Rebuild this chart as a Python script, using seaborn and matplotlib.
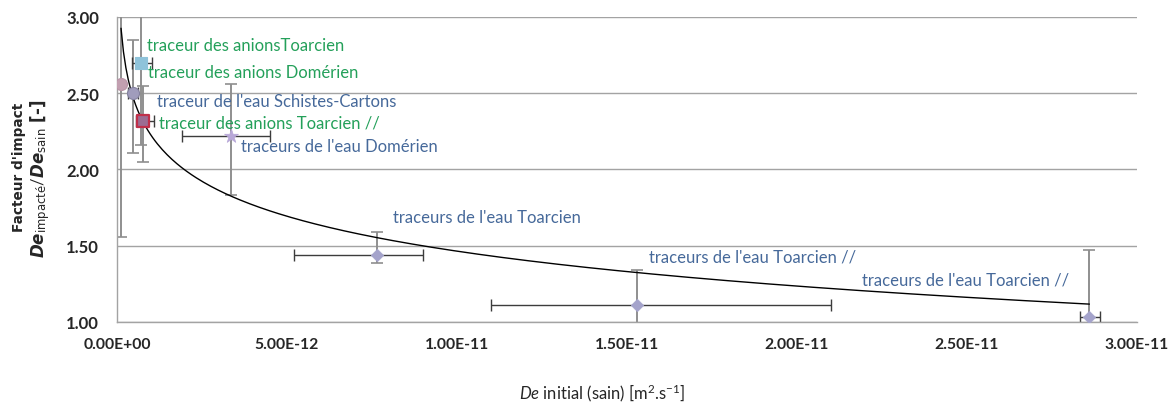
import numpy as np
import pandas as pd
import matplotlib
matplotlib.use("Agg")
import matplotlib.pyplot as plt
from matplotlib.ticker import FuncFormatter, FixedLocator
import seaborn as sns

# ---- data -------------------------------------------------------------
labels = [
    "traceur des anionsToarcien",
    "traceur des anions Domérien",
    "traceur de l'eau Schistes-Cartons",
    "traceur des anions Toarcien //",
    "traceurs de l'eau Domérien",
    "traceurs de l'eau Toarcien",
    "traceurs de l'eau Toarcien //",
    "traceurs de l'eau Toarcien //",
]
tracer_kind = ["anions", "anions", "eau", "anions", "eau", "eau", "eau", "eau"]
de_initial = [0.70e-12, 0.12e-12, 0.47e-12, 0.76e-12, 3.35e-12, 7.65e-12, 15.3e-12, 28.6e-12]
impact_factor = [2.70, 2.56, 2.50, 2.32, 2.22, 1.44, 1.11, 1.03]
factor_err_low = [0.54, 1.00, 0.39, 0.27, 0.39, 0.05, 0.23, 0.44]
factor_err_high = [0.54, 1.00, 0.35, 0.23, 0.34, 0.15, 0.23, 0.44]
de_err_low = [0.26e-12, 0.0, 0.15e-12, 0.20e-12, 1.44e-12, 2.45e-12, 4.30e-12, 0.27e-12]
de_err_high = [0.33e-12, 0.0, 0.15e-12, 0.33e-12, 1.15e-12, 1.35e-12, 5.70e-12, 0.32e-12]
x_ticks = [0.0, 5e-12, 1e-11, 1.5e-11, 2e-11, 2.5e-11, 3e-11]
y_ticks = [1.0, 1.5, 2.0, 2.5, 3.0]

df = pd.DataFrame({
    "label": labels,
    "kind": tracer_kind,
    "de": de_initial,
    "factor": impact_factor,
})

# ---- styling ----------------------------------------------------------
sns.set_style("white")
plt.rcParams["font.family"] = ["Lato", "DejaVu Sans"]
plt.rcParams["mathtext.fontset"] = "custom"
plt.rcParams["mathtext.rm"] = "Lato"
plt.rcParams["mathtext.it"] = "Lato:italic"
plt.rcParams["mathtext.bf"] = "DejaVu Sans:bold"
plt.rcParams["mathtext.bfit"] = "DejaVu Sans:bold:italic"
plt.rcParams["mathtext.sf"] = "DejaVu Sans"

marker_styles = [
    dict(marker="s", color="#8fc3da", edgecolor="#8fc3da", s=70, linewidth=0.8),
    dict(marker="o", color="#c29fb0", edgecolor="#b893a6", s=75, linewidth=0.8),
    dict(marker="o", color="#a09cbc", edgecolor="#85829f", s=75, linewidth=0.8),
    dict(marker="s", color="#9c6c92", edgecolor="#c0304a", s=70, linewidth=1.6),
    dict(marker="*", color="#b8a8d8", edgecolor="#b8a8d8", s=110, linewidth=0.5),
    dict(marker="D", color="#a4a3cb", edgecolor="#a4a3cb", s=40, linewidth=0.5),
    dict(marker="D", color="#a4a3cb", edgecolor="#a4a3cb", s=40, linewidth=0.5),
    dict(marker="D", color="#a4a3cb", edgecolor="#a4a3cb", s=40, linewidth=0.5),
]
label_colors = {"anions": "#24a05a", "eau": "#46699a"}
# label placement relative to each marker, in pixels (positive = up)
label_offsets = [(6, 18), (27, 12), (24, -8), (16, -2), (10, -10), (16, 38), (12, 49), (-20, 38)]
label_align = ["left"] * 7 + ["right"]

fig = plt.figure(figsize=(11.73, 4.06), dpi=100)
ax = fig.add_axes([0.0997, 0.2045, 0.8696, 0.7512])

# horizontal grid
ax.yaxis.grid(True, color="#a3a3a3", linewidth=1.0)
ax.set_axisbelow(True)

# error bars: vertical (grey) and horizontal (dark)
ax.errorbar(df["de"], df["factor"], yerr=[factor_err_low, factor_err_high],
            fmt="none", ecolor="#8f8f8f", elinewidth=1.4, capsize=4, capthick=1.2, zorder=2)
ax.errorbar(df["de"], df["factor"], xerr=[de_err_low, de_err_high],
            fmt="none", ecolor="#3c3c3c", elinewidth=1.0, capsize=4, capthick=1.0, zorder=2)

# logarithmic trend line fitted on the data
coef = np.polyfit(np.log(df["de"]), df["factor"], 1)
x_fit = np.linspace(df["de"].min(), df["de"].max(), 400)
trend = pd.DataFrame({"de": x_fit, "factor": np.polyval(coef, np.log(x_fit))})
sns.lineplot(data=trend, x="de", y="factor", color="black", linewidth=1.0, ax=ax, zorder=3)

# markers
for i, style in enumerate(marker_styles):
    sns.scatterplot(data=df.iloc[[i]], x="de", y="factor", ax=ax, zorder=4,
                    legend=False, **style)

# data labels
for i, row in df.iterrows():
    ax.annotate(row["label"], (row["de"], row["factor"]),
                xytext=label_offsets[i], textcoords="offset pixels",
                ha=label_align[i], va="center", fontsize=12,
                color=label_colors[row["kind"]], zorder=5)

# axes
ax.set_xlim(0, 3.0e-11)
ax.set_ylim(1.0, 3.0)
ax.xaxis.set_major_locator(FixedLocator(x_ticks))
ax.yaxis.set_major_locator(FixedLocator(y_ticks))


def sci_fmt(v, _):
    if v == 0:
        return "0.00E+00"
    s = f"{v:.2E}"
    mant, exp = s.split("E")
    return f"{mant}E{int(exp):+03d}"


ax.xaxis.set_major_formatter(FuncFormatter(sci_fmt))
ax.yaxis.set_major_formatter(FuncFormatter(lambda v, _: f"{v:.2f}"))
ax.tick_params(axis="both", which="major", direction="out", length=5, width=1,
               color="#a3a3a3")
ax.tick_params(axis="x", pad=6, labelsize=11.3)
ax.tick_params(axis="y", pad=8, labelsize=12)
for lab in ax.get_xticklabels() + ax.get_yticklabels():
    lab.set_fontweight("bold")

for side in ("top", "right"):
    ax.spines[side].set_visible(False)
for side in ("left", "bottom"):
    ax.spines[side].set_color("#a3a3a3")
    ax.spines[side].set_linewidth(1.0)

ax.set_xlabel("")
ax.set_ylabel("")
fig.text(602 / 1173, 1 - 393 / 406, r"$\mathit{De}$ initial (sain) [m$^{2}$.s$^{-1}$]",
         ha="center", va="center", fontsize=12)
fig.text(19 / 1173, 1 - 167 / 406, "Facteur d'impact", rotation=90,
         ha="center", va="center", fontsize=9.8, fontweight="bold",
         family=["DejaVu Sans"])
fig.text(40 / 1173, 1 - 179 / 406,
         r"$\mathbfit{De}_{\mathsf{impacté}}/\mathbfit{De}_{\mathsf{sain}}$ [-]",
         rotation=90, ha="center", va="center", fontsize=12, fontweight="bold",
         family=["DejaVu Sans"])

fig.savefig("out.png", dpi=100)
